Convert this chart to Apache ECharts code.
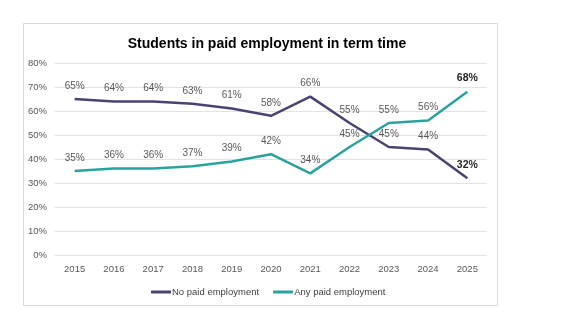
<!DOCTYPE html>
<html>
<head>
<meta charset="utf-8">
<script src="https://cdn.jsdelivr.net/npm/echarts@6/dist/echarts.min.js"></script>
<style>
  html, body { margin: 0; padding: 0; background: #fff; }
  #chart { width: 580px; height: 330px; }
</style>
</head>
<body>
<div id="chart"></div>
<script>
// data
const years = ['2015', '2016', '2017', '2018', '2019', '2020', '2021', '2022', '2023', '2024', '2025'];
const noPaid = [65, 64, 64, 63, 61, 58, 66, 55, 45, 44, 32];
const anyPaid = [35, 36, 36, 37, 39, 42, 34, 45, 55, 56, 68];
const yTicks = [0, 10, 20, 30, 40, 50, 60, 70, 80];

const FONT = '"Liberation Sans", Arial, sans-serif';
const PURPLE = '#4a4373';
const TEAL = '#2ba39c';

// last point of each line gets a bold label
function withLastBold(values) {
  return values.map(function (v, i) {
    if (i !== values.length - 1) return v;
    return {
      value: v,
      label: { fontWeight: 'bold', color: '#262626', fontSize: 10.5 }
    };
  });
}

function lineSeries(name, values, color) {
  return {
    name: name,
    type: 'line',
    data: withLastBold(values),
    color: color,
    symbol: 'circle',
    symbolSize: 0,
    showSymbol: true,
    showAllSymbol: true,
    itemStyle: { color: color },
    lineStyle: { width: 2.5, color: color },
    label: {
      show: true,
      position: 'top',
      distance: 8,
      fontFamily: FONT,
      fontSize: 10,
      color: '#595959',
      formatter: '{c}%'
    },
    labelLayout: { hideOverlap: false }
  };
}

const chart = echarts.init(document.getElementById('chart'));

const option = {
  animation: false,
  textStyle: { fontFamily: FONT },
  graphic: [
    {
      type: 'rect',
      shape: { x: 23.5, y: 23.5, width: 474, height: 282 },
      style: { fill: 'none', stroke: '#d9d9d9', lineWidth: 1 },
      z: -1
    }
  ],
  title: {
    text: 'Students in paid employment in term time',
    left: 262,
    textAlign: 'center',
    top: 32,
    textStyle: { fontFamily: FONT, fontSize: 14, fontWeight: 'bold', color: '#000' }
  },
  legend: {
    left: 146,
    top: 282,
    itemWidth: 20,
    itemHeight: 3,
    itemGap: 14,
    icon: 'rect',
    textStyle: { fontFamily: FONT, fontSize: 9.5, color: '#404040', padding: [0, 0, 0, -4] },
    data: ['No paid employment', 'Any paid employment']
  },
  grid: { left: 55, right: 93, top: 63, bottom: 75, containLabel: false },
  xAxis: {
    type: 'category',
    data: years,
    boundaryGap: true,
    axisLine: { show: false },
    axisTick: { show: false },
    axisLabel: { fontFamily: FONT, fontSize: 9.5, color: '#595959', margin: 9 }
  },
  yAxis: {
    type: 'value',
    min: yTicks[0],
    max: yTicks[yTicks.length - 1],
    interval: 10,
    axisLine: { show: false },
    axisTick: { show: false },
    axisLabel: { fontFamily: FONT, fontSize: 9.5, color: '#595959', margin: 8, formatter: '{value}%' },
    splitLine: { lineStyle: { color: '#e3e3e3', width: 1 } }
  },
  series: [
    lineSeries('No paid employment', noPaid, PURPLE),
    lineSeries('Any paid employment', anyPaid, TEAL)
  ]
};

chart.setOption(option);
</script>
</body>
</html>
